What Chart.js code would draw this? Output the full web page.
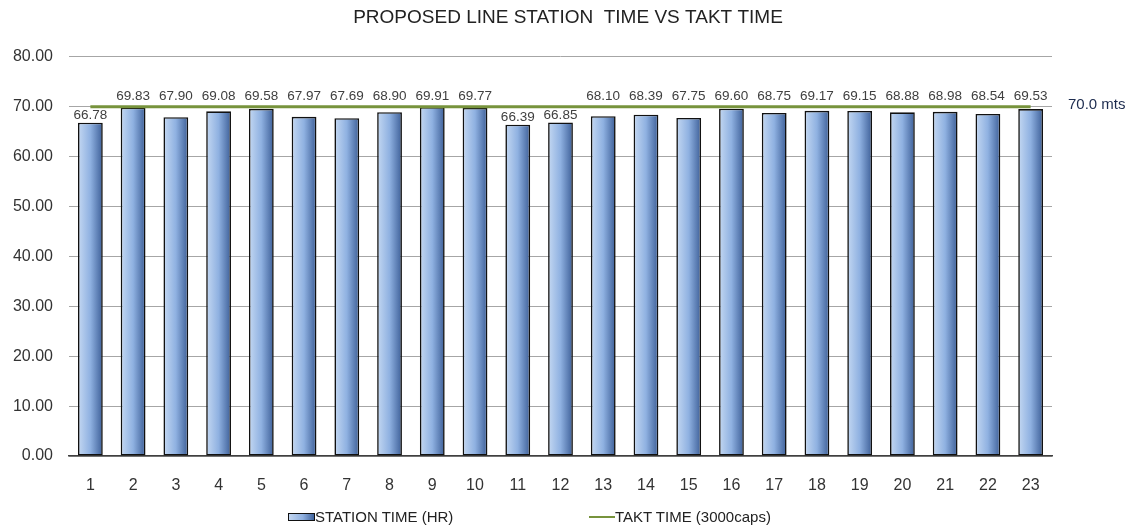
<!DOCTYPE html>
<html>
<head>
<meta charset="utf-8">
<script src="https://cdn.jsdelivr.net/npm/chart.js@4.4.1/dist/chart.umd.min.js"></script>
<style>
    html, body { margin: 0; padding: 0; background: #fff; }
    #wrap { position: relative; width: 1136px; height: 532px; }
    #legend { position: absolute; left: 0; top: 508px; width: 1136px; height: 20px;
        font: 15px 'Liberation Sans', Arial, sans-serif; color: #222; }
    .item { position: absolute; top: 0; line-height: 18px; white-space: nowrap; }
    .swatch { display: inline-block; vertical-align: middle; margin-top: -3px; }
    .sw-bar { width: 25px; height: 6px; border: 1px solid #111;
        background: linear-gradient(to right, #c2d6f1, #8fb0e0 55%, #3f629b); }
    .sw-line { width: 26px; height: 2px; background: #77933c; }
</style>
</head>
<body>
<div id="wrap">
    <canvas id="stationChart" width="1136" height="532"></canvas>
    <div id="legend">
        <div class="item" style="left:288px"><span class="swatch sw-bar"></span>STATION TIME (HR)</div>
        <div class="item" style="left:589px"><span class="swatch sw-line"></span>TAKT TIME (3000caps)</div>
    </div>
</div>
<script>
// Chart data
const stations = ['1', '2', '3', '4', '5', '6', '7', '8', '9', '10', '11', '12',
    '13', '14', '15', '16', '17', '18', '19', '20', '21', '22', '23'];
const stationTime = [66.78, 69.83, 67.90, 69.08, 69.58, 67.97, 67.69, 68.90, 69.91, 69.77, 66.39, 66.85,
    68.10, 68.39, 67.75, 69.60, 68.75, 69.17, 69.15, 68.88, 68.98, 68.54, 69.53];
const taktTime = stations.map(() => 70);
const taktLabel = '70.0 mts';

const BAR_PCT = 0.58;
const FONT = "'Liberation Sans', Arial, sans-serif";

// Horizontal gradient for each bar, built from the x scale
function barFill(ctx) {
    const chart = ctx.chart;
    const xs = chart.scales && chart.scales.x;
    if (!xs || ctx.dataIndex === undefined) return '#8fb0e0';
    const cx = xs.getPixelForValue(ctx.dataIndex);
    const half = (xs.width / stations.length) * BAR_PCT / 2;
    if (!isFinite(cx) || !isFinite(half) || half <= 0) return '#8fb0e0';
    const g = chart.ctx.createLinearGradient(cx - half, 0, cx + half, 0);
    g.addColorStop(0, '#c4d8f2');
    g.addColorStop(0.5, '#8fb1e1');
    g.addColorStop(1, '#3d5f98');
    return g;
}

// Value labels above bars + takt label at right end
const labelPlugin = {
    id: 'valueLabels',
    afterDatasetsDraw(chart) {
        const ctx = chart.ctx;
        const ys = chart.scales.y;
        const lineY = ys.getPixelForValue(taktTime[0]);
        const meta = chart.getDatasetMeta(0);
        ctx.save();
        ctx.font = '13.5px ' + FONT;
        ctx.fillStyle = '#404040';
        ctx.textAlign = 'center';
        ctx.textBaseline = 'middle';
        meta.data.forEach((bar, i) => {
            let cy = bar.y - 7;
            // labels that would cross the takt line go above it
            if (cy - 5 < lineY + 1) cy = lineY - 10;
            ctx.fillText(stationTime[i].toFixed(2), bar.x, cy);
        });
        ctx.font = '15px ' + FONT;
        ctx.fillStyle = '#1c2b4e';
        ctx.textAlign = 'left';
        ctx.fillText(taktLabel, chart.chartArea.right + 16, lineY - 2);
        ctx.restore();
    }
};

const stationChart = new Chart(document.getElementById('stationChart'), {
    data: {
        labels: stations,
        datasets: [{
            type: 'bar',
            label: 'STATION TIME (HR)',
            data: stationTime,
            backgroundColor: barFill,
            borderColor: '#111',
            borderWidth: 1.6,
            borderSkipped: false,
            barPercentage: BAR_PCT,
            categoryPercentage: 1,
            order: 2
        }, {
            type: 'line',
            label: 'TAKT TIME (3000caps)',
            data: taktTime,
            borderColor: '#77933c',
            borderWidth: 3,
            pointRadius: 0,
            fill: false,
            order: 1
        }]
    },
    options: {
        responsive: false,
        animation: false,
        layout: { padding: { left: 0, right: 0, top: 0, bottom: 36 } },
        plugins: {
            legend: { display: false },
            tooltip: { enabled: false },
            title: {
                display: true,
                text: 'PROPOSED LINE STATION  TIME VS TAKT TIME',
                color: '#222',
                font: { family: FONT, size: 19, weight: 'normal' },
                padding: { top: 6, bottom: 28 }
            }
        },
        scales: {
            x: {
                grid: { display: false },
                border: { display: true, color: '#404040', width: 1.5 },
                ticks: { color: '#333', padding: 12, font: { family: FONT, size: 16 } },
                afterFit: s => { s.height = 40; }
            },
            y: {
                min: 0,
                max: 80,
                grid: { color: '#a6a6a6', drawTicks: false },
                border: { display: false },
                ticks: {
                    stepSize: 10,
                    color: '#333',
                    padding: 16,
                    font: { family: FONT, size: 16 },
                    callback: v => v.toFixed(2)
                },
                afterFit: s => { s.width = 69; }
            },
            // empty right-hand axis: leaves room for the "70.0 mts" note
            yRight: {
                position: 'right',
                display: true,
                min: 0,
                max: 80,
                grid: { display: false },
                border: { display: false },
                ticks: { display: false },
                afterFit: s => { s.width = 84; }
            }
        }
    },
    plugins: [labelPlugin]
});
// gradients depend on the fitted scale, so redraw once the layout is known
stationChart.update();
</script>
</body>
</html>
